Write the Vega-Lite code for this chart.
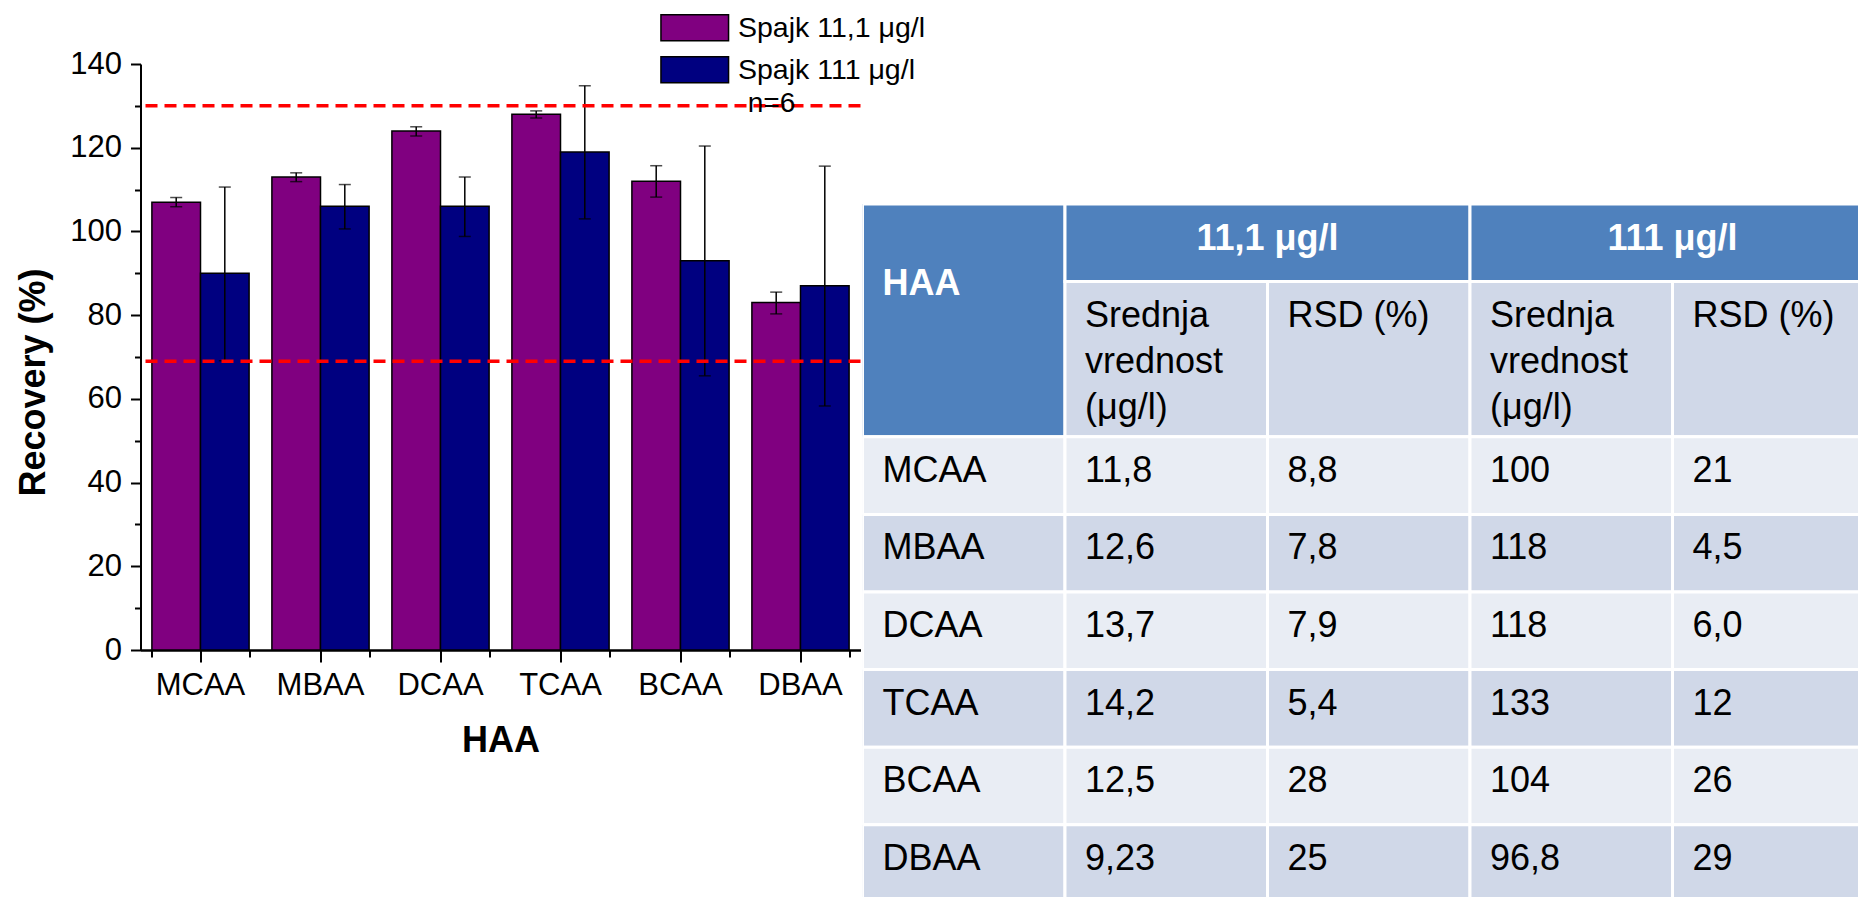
{
  "$schema": "https://vega.github.io/schema/vega-lite/v6.json",
  "padding": {"left": 15.5, "top": 13, "right": 0, "bottom": 0},
  "background": "white",
  "config": {
    "view": {"stroke": null},
    "font": "Liberation Sans",
    "axis": {"grid": false, "labelColor": "black", "titleColor": "black", "tickColor": "black", "domainColor": "black", "labelFont": "Liberation Sans", "titleFont": "Liberation Sans"}
  },
  "bounds": "flush",
  "spacing": 2,
  "resolve": {"scale": {"color": "independent", "fill": "independent"}},
  "datasets": {
    "bars": [
      {"HAA": "MCAA", "series": "Spajk 11,1 μg/l", "value": 107, "lo": 105.9, "hi": 108.1},
      {"HAA": "MBAA", "series": "Spajk 11,1 μg/l", "value": 113, "lo": 111.9, "hi": 114},
      {"HAA": "DCAA", "series": "Spajk 11,1 μg/l", "value": 124, "lo": 122.8, "hi": 125},
      {"HAA": "TCAA", "series": "Spajk 11,1 μg/l", "value": 128, "lo": 127.1, "hi": 128.8},
      {"HAA": "BCAA", "series": "Spajk 11,1 μg/l", "value": 112, "lo": 108.2, "hi": 115.7},
      {"HAA": "DBAA", "series": "Spajk 11,1 μg/l", "value": 83, "lo": 80.3, "hi": 85.5},
      {"HAA": "MCAA", "series": "Spajk 111 μg/l", "value": 90, "lo": 69.1, "hi": 110.6},
      {"HAA": "MBAA", "series": "Spajk 111 μg/l", "value": 106, "lo": 100.6, "hi": 111.2},
      {"HAA": "DCAA", "series": "Spajk 111 μg/l", "value": 106, "lo": 98.8, "hi": 113},
      {"HAA": "TCAA", "series": "Spajk 111 μg/l", "value": 119, "lo": 103, "hi": 134.8},
      {"HAA": "BCAA", "series": "Spajk 111 μg/l", "value": 93, "lo": 65.5, "hi": 120.4},
      {"HAA": "DBAA", "series": "Spajk 111 μg/l", "value": 87, "lo": 58.3, "hi": 115.6}
    ],
    "limits": [{"limit": 130}, {"limit": 69}],
    "note": [{"label": "n=6"}],
    "cells": [
      {"c0": 0, "c1": 1, "r0": 0, "r1": 3, "kind": "head"},
      {"c0": 1, "c1": 3, "r0": 0, "r1": 1, "kind": "head"},
      {"c0": 3, "c1": 5, "r0": 0, "r1": 1, "kind": "head"},
      {"c0": 1, "c1": 2, "r0": 1, "r1": 3, "kind": "dark"},
      {"c0": 2, "c1": 3, "r0": 1, "r1": 3, "kind": "dark"},
      {"c0": 3, "c1": 4, "r0": 1, "r1": 3, "kind": "dark"},
      {"c0": 4, "c1": 5, "r0": 1, "r1": 3, "kind": "dark"},
      {"c0": 0, "c1": 1, "r0": 3, "r1": 4, "kind": "light"},
      {"c0": 1, "c1": 2, "r0": 3, "r1": 4, "kind": "light"},
      {"c0": 2, "c1": 3, "r0": 3, "r1": 4, "kind": "light"},
      {"c0": 3, "c1": 4, "r0": 3, "r1": 4, "kind": "light"},
      {"c0": 4, "c1": 5, "r0": 3, "r1": 4, "kind": "light"},
      {"c0": 0, "c1": 1, "r0": 4, "r1": 5, "kind": "dark"},
      {"c0": 1, "c1": 2, "r0": 4, "r1": 5, "kind": "dark"},
      {"c0": 2, "c1": 3, "r0": 4, "r1": 5, "kind": "dark"},
      {"c0": 3, "c1": 4, "r0": 4, "r1": 5, "kind": "dark"},
      {"c0": 4, "c1": 5, "r0": 4, "r1": 5, "kind": "dark"},
      {"c0": 0, "c1": 1, "r0": 5, "r1": 6, "kind": "light"},
      {"c0": 1, "c1": 2, "r0": 5, "r1": 6, "kind": "light"},
      {"c0": 2, "c1": 3, "r0": 5, "r1": 6, "kind": "light"},
      {"c0": 3, "c1": 4, "r0": 5, "r1": 6, "kind": "light"},
      {"c0": 4, "c1": 5, "r0": 5, "r1": 6, "kind": "light"},
      {"c0": 0, "c1": 1, "r0": 6, "r1": 7, "kind": "dark"},
      {"c0": 1, "c1": 2, "r0": 6, "r1": 7, "kind": "dark"},
      {"c0": 2, "c1": 3, "r0": 6, "r1": 7, "kind": "dark"},
      {"c0": 3, "c1": 4, "r0": 6, "r1": 7, "kind": "dark"},
      {"c0": 4, "c1": 5, "r0": 6, "r1": 7, "kind": "dark"},
      {"c0": 0, "c1": 1, "r0": 7, "r1": 8, "kind": "light"},
      {"c0": 1, "c1": 2, "r0": 7, "r1": 8, "kind": "light"},
      {"c0": 2, "c1": 3, "r0": 7, "r1": 8, "kind": "light"},
      {"c0": 3, "c1": 4, "r0": 7, "r1": 8, "kind": "light"},
      {"c0": 4, "c1": 5, "r0": 7, "r1": 8, "kind": "light"},
      {"c0": 0, "c1": 1, "r0": 8, "r1": 9, "kind": "dark"},
      {"c0": 1, "c1": 2, "r0": 8, "r1": 9, "kind": "dark"},
      {"c0": 2, "c1": 3, "r0": 8, "r1": 9, "kind": "dark"},
      {"c0": 3, "c1": 4, "r0": 8, "r1": 9, "kind": "dark"},
      {"c0": 4, "c1": 5, "r0": 8, "r1": 9, "kind": "dark"}
    ],
    "texts": [
      {"col": 1, "row": 1, "text": "Srednja\nvrednost\n(μg/l)"},
      {"col": 2, "row": 1, "text": "RSD (%)"},
      {"col": 3, "row": 1, "text": "Srednja\nvrednost\n(μg/l)"},
      {"col": 4, "row": 1, "text": "RSD (%)"},
      {"col": 0, "row": 3, "text": "MCAA"}, {"col": 1, "row": 3, "text": "11,8"}, {"col": 2, "row": 3, "text": "8,8"}, {"col": 3, "row": 3, "text": "100"}, {"col": 4, "row": 3, "text": "21"},
      {"col": 0, "row": 4, "text": "MBAA"}, {"col": 1, "row": 4, "text": "12,6"}, {"col": 2, "row": 4, "text": "7,8"}, {"col": 3, "row": 4, "text": "118"}, {"col": 4, "row": 4, "text": "4,5"},
      {"col": 0, "row": 5, "text": "DCAA"}, {"col": 1, "row": 5, "text": "13,7"}, {"col": 2, "row": 5, "text": "7,9"}, {"col": 3, "row": 5, "text": "118"}, {"col": 4, "row": 5, "text": "6,0"},
      {"col": 0, "row": 6, "text": "TCAA"}, {"col": 1, "row": 6, "text": "14,2"}, {"col": 2, "row": 6, "text": "5,4"}, {"col": 3, "row": 6, "text": "133"}, {"col": 4, "row": 6, "text": "12"},
      {"col": 0, "row": 7, "text": "BCAA"}, {"col": 1, "row": 7, "text": "12,5"}, {"col": 2, "row": 7, "text": "28"}, {"col": 3, "row": 7, "text": "104"}, {"col": 4, "row": 7, "text": "26"},
      {"col": 0, "row": 8, "text": "DBAA"}, {"col": 1, "row": 8, "text": "9,23"}, {"col": 2, "row": 8, "text": "25"}, {"col": 3, "row": 8, "text": "96,8"}, {"col": 4, "row": 8, "text": "29"}
    ],
    "headLeft": [{"col": 0, "row": 0, "text": "HAA"}],
    "headCenter": [{"xc": 2, "row": 0, "text": "11,1 μg/l"}, {"xc": 4, "row": 0, "text": "111 μg/l"}]
  },
  "hconcat": [
    {
      "width": 720,
      "height": 586,
      "resolve": {"axis": {"x": "independent", "y": "independent"}},
      "layer": [
        {
          "data": {"name": "bars"},
          "mark": {"type": "bar", "stroke": "black", "strokeWidth": 1.5},
          "encoding": {
            "x": {"field": "HAA", "type": "nominal",
              "scale": {"domain": ["MCAA", "MBAA", "DCAA", "TCAA", "BCAA", "DBAA"], "paddingInner": 0.19, "paddingOuter": 0.095},
              "axis": {"orient": "bottom", "title": "HAA", "labelAngle": 0, "labelFontSize": 31, "labelPadding": 8, "tickSize": 12, "tickWidth": 2, "domainWidth": 2.5, "titleFontSize": 36, "titleFontWeight": "bold", "titlePadding": 23}},
            "xOffset": {"field": "series", "type": "nominal", "scale": {"domain": ["Spajk 11,1 μg/l", "Spajk 111 μg/l"], "paddingInner": 0, "paddingOuter": 0}},
            "y": {"field": "value", "type": "quantitative",
              "scale": {"domain": [0, 140], "nice": false},
              "axis": {"orient": "left", "title": "Recovery (%)", "values": [0, 20, 40, 60, 80, 100, 120, 140], "labelFontSize": 31, "labelPadding": 9, "tickSize": 10, "tickWidth": 2, "domainWidth": 2, "titleFontSize": 36, "titleFontWeight": "bold", "titlePadding": 17, "titleY": 318}},
            "color": {"field": "series", "type": "nominal",
              "scale": {"domain": ["Spajk 11,1 μg/l", "Spajk 111 μg/l"], "range": ["#800080", "#000080"]},
              "legend": {"orient": "none", "legendX": 540, "legendY": -50.5, "title": null, "padding": 0, "symbolType": "M-2.6,-1H2.6V1H-2.6Z", "symbolSize": 676, "symbolStrokeColor": "black", "symbolStrokeWidth": 1.5, "labelFontSize": 28.5, "labelColor": "black", "labelOffset": 29, "rowPadding": 9, "labelLimit": 0}}
          }
        },
        {
          "data": {"name": "bars"},
          "mark": {"type": "rule", "color": "black", "strokeWidth": 1.5},
          "encoding": {
            "x": {"field": "HAA", "type": "nominal",
              "scale": {"domain": ["MCAA", "MBAA", "DCAA", "TCAA", "BCAA", "DBAA"], "paddingInner": 0.19, "paddingOuter": 0.095},
              "axis": {"orient": "bottom", "title": null, "labels": false, "domain": false, "tickBand": "extent", "tickSize": 7, "tickWidth": 2}},
            "xOffset": {"field": "series", "type": "nominal", "scale": {"domain": ["Spajk 11,1 μg/l", "Spajk 111 μg/l"], "paddingInner": 0, "paddingOuter": 0}},
            "y": {"field": "lo", "type": "quantitative", "scale": {"domain": [0, 140], "nice": false},
              "axis": {"orient": "left", "title": null, "labels": false, "domain": false, "values": [10, 30, 50, 70, 90, 110, 130], "tickSize": 6, "tickWidth": 2}},
            "y2": {"field": "hi"}
          }
        },
        {
          "data": {"name": "bars"},
          "mark": {"type": "tick", "color": "black", "size": 12, "thickness": 1.5},
          "encoding": {
            "x": {"field": "HAA", "type": "nominal", "scale": {"domain": ["MCAA", "MBAA", "DCAA", "TCAA", "BCAA", "DBAA"], "paddingInner": 0.19, "paddingOuter": 0.095}, "axis": null},
            "xOffset": {"field": "series", "type": "nominal", "scale": {"domain": ["Spajk 11,1 μg/l", "Spajk 111 μg/l"], "paddingInner": 0, "paddingOuter": 0}},
            "y": {"field": "lo", "type": "quantitative", "scale": {"domain": [0, 140], "nice": false}, "axis": null}
          }
        },
        {
          "data": {"name": "bars"},
          "mark": {"type": "tick", "color": "black", "size": 12, "thickness": 1.5},
          "encoding": {
            "x": {"field": "HAA", "type": "nominal", "scale": {"domain": ["MCAA", "MBAA", "DCAA", "TCAA", "BCAA", "DBAA"], "paddingInner": 0.19, "paddingOuter": 0.095}, "axis": null},
            "xOffset": {"field": "series", "type": "nominal", "scale": {"domain": ["Spajk 11,1 μg/l", "Spajk 111 μg/l"], "paddingInner": 0, "paddingOuter": 0}},
            "y": {"field": "hi", "type": "quantitative", "scale": {"domain": [0, 140], "nice": false}, "axis": null}
          }
        },
        {
          "data": {"name": "limits"},
          "mark": {"type": "rule", "color": "#FF0000", "strokeWidth": 3.5, "strokeDash": [12, 7]},
          "encoding": {
            "y": {"field": "limit", "type": "quantitative", "scale": {"domain": [0, 140], "nice": false}, "axis": null}
          }
        },
        {
          "data": {"name": "note"},
          "mark": {"type": "text", "fontSize": 28, "color": "black", "align": "center", "baseline": "alphabetic", "dx": -29, "dy": 6},
          "encoding": {
            "x": {"datum": "DBAA", "type": "nominal", "scale": {"domain": ["MCAA", "MBAA", "DCAA", "TCAA", "BCAA", "DBAA"], "paddingInner": 0.19, "paddingOuter": 0.095}, "axis": null},
            "y": {"datum": 130, "type": "quantitative", "scale": {"domain": [0, 140], "nice": false}, "axis": null},
            "text": {"field": "label"}
          }
        }
      ]
    },
    {
      "width": 996.5,
      "height": 833,
      "layer": [
        {
          "data": {"name": "cells"},
          "mark": {"type": "rect", "stroke": "white", "strokeWidth": 3, "clip": true},
          "encoding": {
            "x": {"field": "c0", "type": "quantitative", "scale": {"domain": [0, 4.921], "nice": false, "zero": false}, "axis": null},
            "x2": {"field": "c1"},
            "y": {"field": "r0", "type": "quantitative", "scale": {"domain": [-1.804, 8.93], "nice": false, "zero": false, "reverse": true}, "axis": null},
            "y2": {"field": "r1"},
            "fill": {"field": "kind", "type": "nominal", "scale": {"domain": ["head", "dark", "light"], "range": ["#4F81BD", "#D0D8E8", "#E9EDF4"]}, "legend": null}
          }
        },
        {
          "data": {"name": "texts"},
          "mark": {"type": "text", "align": "left", "baseline": "alphabetic", "dx": 20, "dy": 45, "fontSize": 36, "color": "black", "lineBreak": "\n", "lineHeight": 46},
          "encoding": {
            "x": {"field": "col", "type": "quantitative", "scale": {"domain": [0, 4.921], "nice": false, "zero": false}, "axis": null},
            "y": {"field": "row", "type": "quantitative", "scale": {"domain": [-1.804, 8.93], "nice": false, "zero": false, "reverse": true}, "axis": null},
            "text": {"field": "text"}
          }
        },
        {
          "data": {"name": "headLeft"},
          "mark": {"type": "text", "align": "left", "baseline": "alphabetic", "dx": 20, "dy": 91, "fontSize": 36, "fontWeight": "bold", "color": "white"},
          "encoding": {
            "x": {"field": "col", "type": "quantitative", "scale": {"domain": [0, 4.921], "nice": false, "zero": false}, "axis": null},
            "y": {"field": "row", "type": "quantitative", "scale": {"domain": [-1.804, 8.93], "nice": false, "zero": false, "reverse": true}, "axis": null},
            "text": {"field": "text"}
          }
        },
        {
          "data": {"name": "headCenter"},
          "mark": {"type": "text", "align": "center", "baseline": "alphabetic", "dy": 46, "fontSize": 36, "fontWeight": "bold", "color": "white"},
          "encoding": {
            "x": {"field": "xc", "type": "quantitative", "scale": {"domain": [0, 4.921], "nice": false, "zero": false}, "axis": null},
            "y": {"field": "row", "type": "quantitative", "scale": {"domain": [-1.804, 8.93], "nice": false, "zero": false, "reverse": true}, "axis": null},
            "text": {"field": "text"}
          }
        }
      ]
    }
  ]
}
